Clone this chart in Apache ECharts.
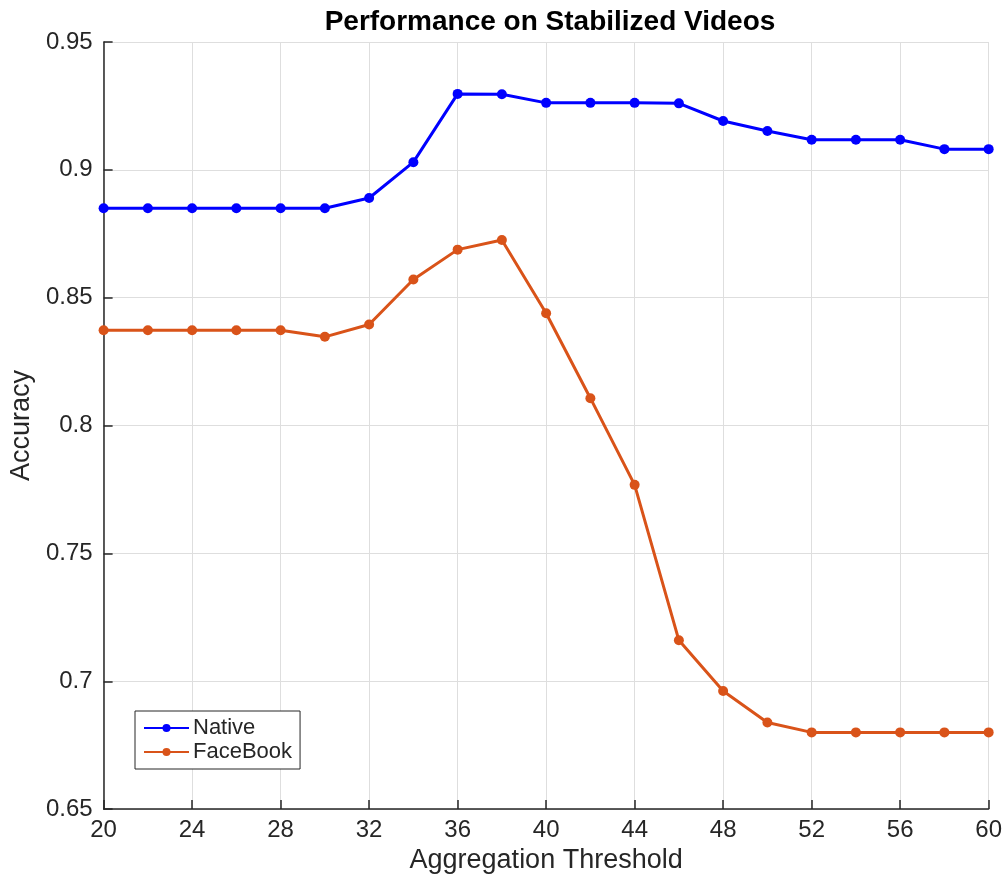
<!DOCTYPE html>
<html>
<head>
<meta charset="utf-8">
<script src="https://cdn.jsdelivr.net/npm/echarts@6/dist/echarts.min.js"></script>
<style>
html,body{margin:0;padding:0;background:#fff;}
#chart{width:1005px;height:879px;}
</style>
</head>
<body>
<div id="chart"></div>
<script>
var thresholds = [20,22,24,26,28,30,32,34,36,38,40,42,44,46,48,50,52,54,56,58,60];
var nativeAcc = [0.885,0.885,0.885,0.885,0.885,0.885,0.889,0.903,0.9297,0.9296,0.9262,0.9262,0.9262,0.926,0.9191,0.9152,0.9118,0.9118,0.9118,0.9081,0.9081];
var facebookAcc = [0.8373,0.8373,0.8373,0.8373,0.8373,0.8347,0.8395,0.8571,0.8688,0.8726,0.8439,0.8107,0.7768,0.716,0.6962,0.6839,0.68,0.68,0.68,0.68,0.68];
var seriesNames = ['Native','FaceBook'];

function pairs(xs, ys){ return xs.map(function(x,i){ return [x, ys[i]]; }); }

var FONT = 'Liberation Sans, Arial, Helvetica, sans-serif';
var chart = echarts.init(document.getElementById('chart'), null, {renderer:'canvas'});
chart.setOption({
  animation:false,
  backgroundColor:'#fff',
  title:{
    text:'Performance on Stabilized Videos',
    left:545, top:3, textAlign:'center',
    textStyle:{fontFamily:FONT,fontSize:28,fontWeight:'bold',color:'#000'}
  },
  legend:{
    orient:'vertical', left:135, top:711,
    padding:[6,8,6,8], itemGap:2, itemWidth:45, itemHeight:10,
    borderColor:'#262626', borderWidth:1, backgroundColor:'#fff',
    textStyle:{fontFamily:FONT,fontSize:22,color:'#262626',padding:[0,0,0,-1]},
    data:seriesNames
  },
  grid:{left:102,right:16,top:42,bottom:66,containLabel:false},
  xAxis:{
    type:'value', min:20, max:60, interval:4,
    name:'Aggregation Threshold', nameLocation:'middle', nameGap:35,
    nameTextStyle:{fontFamily:FONT,fontSize:27,color:'#262626'},
    axisLine:{show:true,lineStyle:{color:'#262626',width:1.5}},
    axisTick:{show:true,inside:true,length:9,lineStyle:{color:'#262626',width:1.5}},
    axisLabel:{margin:9,fontFamily:FONT,fontSize:24,color:'#262626'},
    splitLine:{show:true,lineStyle:{color:'#dedede',width:1}}
  },
  yAxis:{
    type:'value', min:0.65, max:0.95, interval:0.05,
    name:'Accuracy', nameLocation:'middle', nameGap:63,
    nameTextStyle:{fontFamily:FONT,fontSize:27,color:'#262626'},
    axisLine:{show:true,lineStyle:{color:'#262626',width:1.5}},
    axisTick:{show:true,inside:true,length:9,lineStyle:{color:'#262626',width:1.5}},
    axisLabel:{margin:11,fontFamily:FONT,fontSize:24,color:'#262626',
      formatter:function(v){ return String(parseFloat(v.toFixed(2))); }},
    splitLine:{show:true,lineStyle:{color:'#dedede',width:1}}
  },
  series:[
    {name:seriesNames[0],type:'line',data:pairs(thresholds,nativeAcc),
     symbol:'circle',symbolSize:10,
     lineStyle:{color:'#0000ff',width:3},itemStyle:{color:'#0000ff'}},
    {name:seriesNames[1],type:'line',data:pairs(thresholds,facebookAcc),
     symbol:'circle',symbolSize:10,
     lineStyle:{color:'#d95319',width:3},itemStyle:{color:'#d95319'}}
  ]
});
</script>
</body>
</html>
